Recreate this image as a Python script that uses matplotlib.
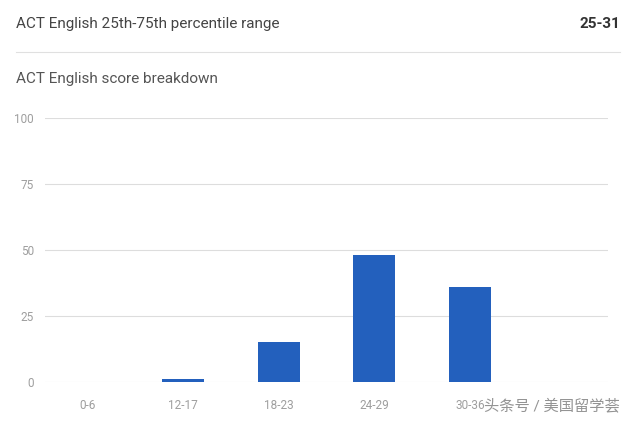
import matplotlib.pyplot as plt

categories = ["0-6", "12-17", "18-23", "24-29", "30-36", ""]
values = [0, 1, 15, 48, 36, 0]
yticks = [0, 25, 50, 75, 100]

W, H = 636, 421
fig = plt.figure(figsize=(W / 100, H / 100), dpi=100)
plt.rcParams['font.family'] = ['Roboto', 'Noto Sans CJK SC', 'DejaVu Sans']

ax = fig.add_axes([45 / W, 1 - 382 / H, (608 - 45) / W, (382 - 118) / H])
x = range(len(categories))
ax.bar(x, values, width=0.44, color="#2360bd", zorder=3)
ax.set_xlim(-0.44, 5.44)
ax.set_ylim(0, 100)
ax.set_yticks(yticks)
ax.set_xticks(list(x))
ax.set_xticklabels(categories)
ax.grid(axis="y", color="#dddddd", lw=0.8, zorder=0)
for s in ax.spines.values():
    s.set_visible(False)
ax.tick_params(length=0, colors="#9e9e9e", labelsize=8.5)
ax.tick_params(axis="y", pad=8)
ax.tick_params(axis="x", pad=12)
for lbl in ax.get_yticklabels():
    lbl.set_horizontalalignment("right")

fig.text(16 / W, 1 - 24 / H, "ACT English 25th-75th percentile range", fontsize=11,
         color="#444444", va="center")
fig.text(620 / W, 1 - 24 / H, "25-31", fontsize=11, color="#333333",
         fontweight="bold", va="center", ha="right")
fig.add_artist(plt.Line2D([16 / W, 620 / W], [1 - 52 / H] * 2, color="#e0e0e0", lw=0.8))
fig.text(16 / W, 1 - 79 / H, "ACT English score breakdown", fontsize=11,
         color="#555555", va="center")
fig.text(484 / W, 1 - 406 / H, "头条号 / 美国留学荟", fontsize=11, color="#888888",
         va="center", alpha=0.9)

fig.savefig("out.png", dpi=100)
